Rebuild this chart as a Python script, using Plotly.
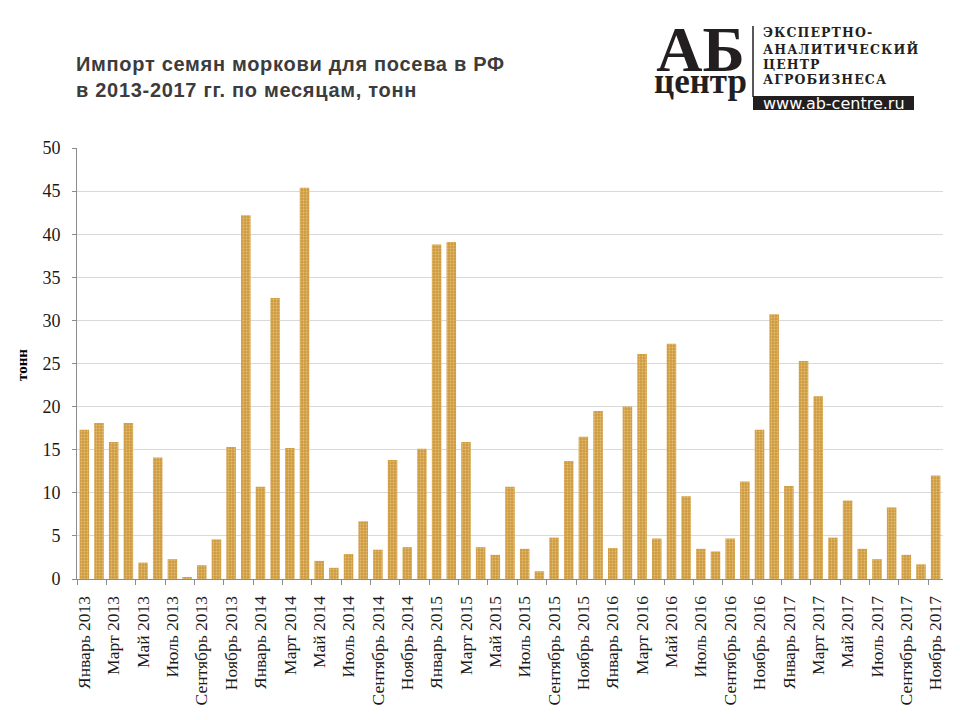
import plotly.graph_objects as go

months = ["Январь", "Февраль", "Март", "Апрель", "Май", "Июнь", "Июль",
          "Август", "Сентябрь", "Октябрь", "Ноябрь", "Декабрь"]
years = [2013, 2014, 2015, 2016, 2017]
categories = [f"{m} {y}" for y in years for m in months][:59]  # Jan 2013 .. Nov 2017

values = [
    17.3, 18.1, 15.9, 18.1, 1.9, 14.1, 2.3, 0.2, 1.6, 4.6, 15.3, 42.2,   # 2013
    10.7, 32.6, 15.2, 45.4, 2.1, 1.3, 2.9, 6.7, 3.4, 13.8, 3.7, 15.1,   # 2014
    38.8, 39.1, 15.9, 3.7, 2.8, 10.7, 3.5, 0.9, 4.8, 13.7, 16.5, 19.5,  # 2015
    3.6, 20.0, 26.1, 4.7, 27.3, 9.6, 3.5, 3.2, 4.7, 11.3, 17.3, 30.7,   # 2016
    10.8, 25.3, 21.2, 4.8, 9.1, 3.5, 2.3, 8.3, 2.8, 1.7, 12.0,          # 2017
]

y_ticks = [0, 5, 10, 15, 20, 25, 30, 35, 40, 45, 50]

title_lines = ["Импорт семян моркови для посева в РФ",
               "в 2013-2017 гг. по месяцам, тонн"]
y_title = "тонн"
logo_big = ["АБ", "центр"]
logo_lines = ["ЭКСПЕРТНО-", "АНАЛИТИЧЕСКИЙ", "ЦЕНТР", "АГРОБИЗНЕСА"]
logo_url = "www.ab-centre.ru"

x_idx = list(range(len(values)))
label_idx = x_idx[::2]
label_text = [categories[i] for i in label_idx]
boundary_ticks = [i - 0.5 for i in label_idx]

W, H = 960, 720
L, R, T, B = 77, 17, 148, 141
pw, ph = W - L - R, H - T - B


def px(x):
    return (x - L) / pw


def py(y):
    return (H - B - y) / ph


fig = go.Figure(go.Bar(
    x=x_idx,
    y=values,
    width=0.65,
    marker=dict(
        color="#D2A048",
        line=dict(width=0),
        pattern=dict(shape=".", fgcolor="#F4E0AC", bgcolor="#CF9B40",
                     size=3, solidity=0.3),
    ),
    hovertext=categories,
    hoverinfo="text+y",
))

serif = "Liberation Serif, Times New Roman, serif"

fig.update_layout(
    width=W, height=H,
    margin=dict(l=L, r=R, t=T, b=B),
    paper_bgcolor="white",
    plot_bgcolor="white",
    showlegend=False,
    font=dict(family=serif, color="#000000"),
    xaxis=dict(
        range=[-0.5, len(values) - 0.5],
        tickmode="array",
        tickvals=label_idx,
        ticktext=label_text,
        tickangle=-90,
        ticks="",
        ticklabelstandoff=9,
        tickfont=dict(size=17.5, family=serif, color="#1a1a1a"),
        showline=True, linecolor="#8c8c8c", linewidth=1,
        showgrid=False, zeroline=False,
        minor=dict(tickmode="array", tickvals=boundary_ticks, ticks="outside",
                   ticklen=5, tickcolor="#8c8c8c", showgrid=False),
    ),
    yaxis=dict(
        range=[0, 50],
        tickmode="array",
        tickvals=y_ticks,
        ticks="outside", ticklen=4, tickcolor="#8c8c8c",
        ticklabelstandoff=8,
        tickfont=dict(size=18, family=serif, color="#1a1a1a"),
        showline=True, linecolor="#8c8c8c", linewidth=1,
        showgrid=True, gridcolor="#d9d9d9", gridwidth=1,
        zeroline=False,
    ),
)

ann = []
title_font = dict(family="Liberation Sans, Arial, sans-serif", size=20, color="#3c3c3c")
for i, line in enumerate(title_lines):
    ann.append(dict(text=f"<span style='letter-spacing:0.7px'><b>{line}</b></span>",
                    x=px(74), y=py(64 + 26 * i), xref="paper", yref="paper",
                    xanchor="left", yanchor="middle", showarrow=False, font=title_font))
ann.append(dict(text=f"<b>{y_title}</b>", x=px(22), y=py(365), xref="paper", yref="paper",
                xanchor="center", yanchor="middle", showarrow=False, textangle=-90,
                font=dict(family=serif, size=15, color="#000000")))
# Logo: big letters in one text block (line step set by base font size)
ann.append(dict(text=(f"<span style='font-size:64px'><b>{logo_big[0]}</b></span><br>"
                      f"<span style='font-size:35px'><b>{logo_big[1]}</b></span>"),
                x=px(700), y=py(58), xref="paper", yref="paper",
                xanchor="center", yanchor="middle", showarrow=False,
                font=dict(family=serif, size=17, color="#231f20")))
for i, t in enumerate(logo_lines):
    ann.append(dict(text=f"<span style='letter-spacing:1.1px'><b>{t}</b></span>",
                    x=px(761), y=py(33 + i * 15.6), xref="paper", yref="paper",
                    xanchor="left", yanchor="middle", showarrow=False,
                    font=dict(family="DejaVu Serif, serif", size=12.5, color="#231f20")))
ann.append(dict(text=logo_url, x=px(834), y=py(103), xref="paper", yref="paper",
                xanchor="center", yanchor="middle", showarrow=False,
                font=dict(family="DejaVu Sans, sans-serif", size=16, color="#ffffff")))

shapes = [
    dict(type="line", xref="paper", yref="paper", x0=px(753), x1=px(753), y0=py(26), y1=py(97),
         line=dict(color="#231f20", width=1.5)),
    dict(type="rect", xref="paper", yref="paper", x0=px(753), x1=px(914), y0=py(110), y1=py(96),
         fillcolor="#231f20", line=dict(width=0)),
]

fig.update_layout(annotations=ann, shapes=shapes)

fig.write_html("out.html", config={"displayModeBar": False},
               post_script="document.body.style.margin='0px';")
